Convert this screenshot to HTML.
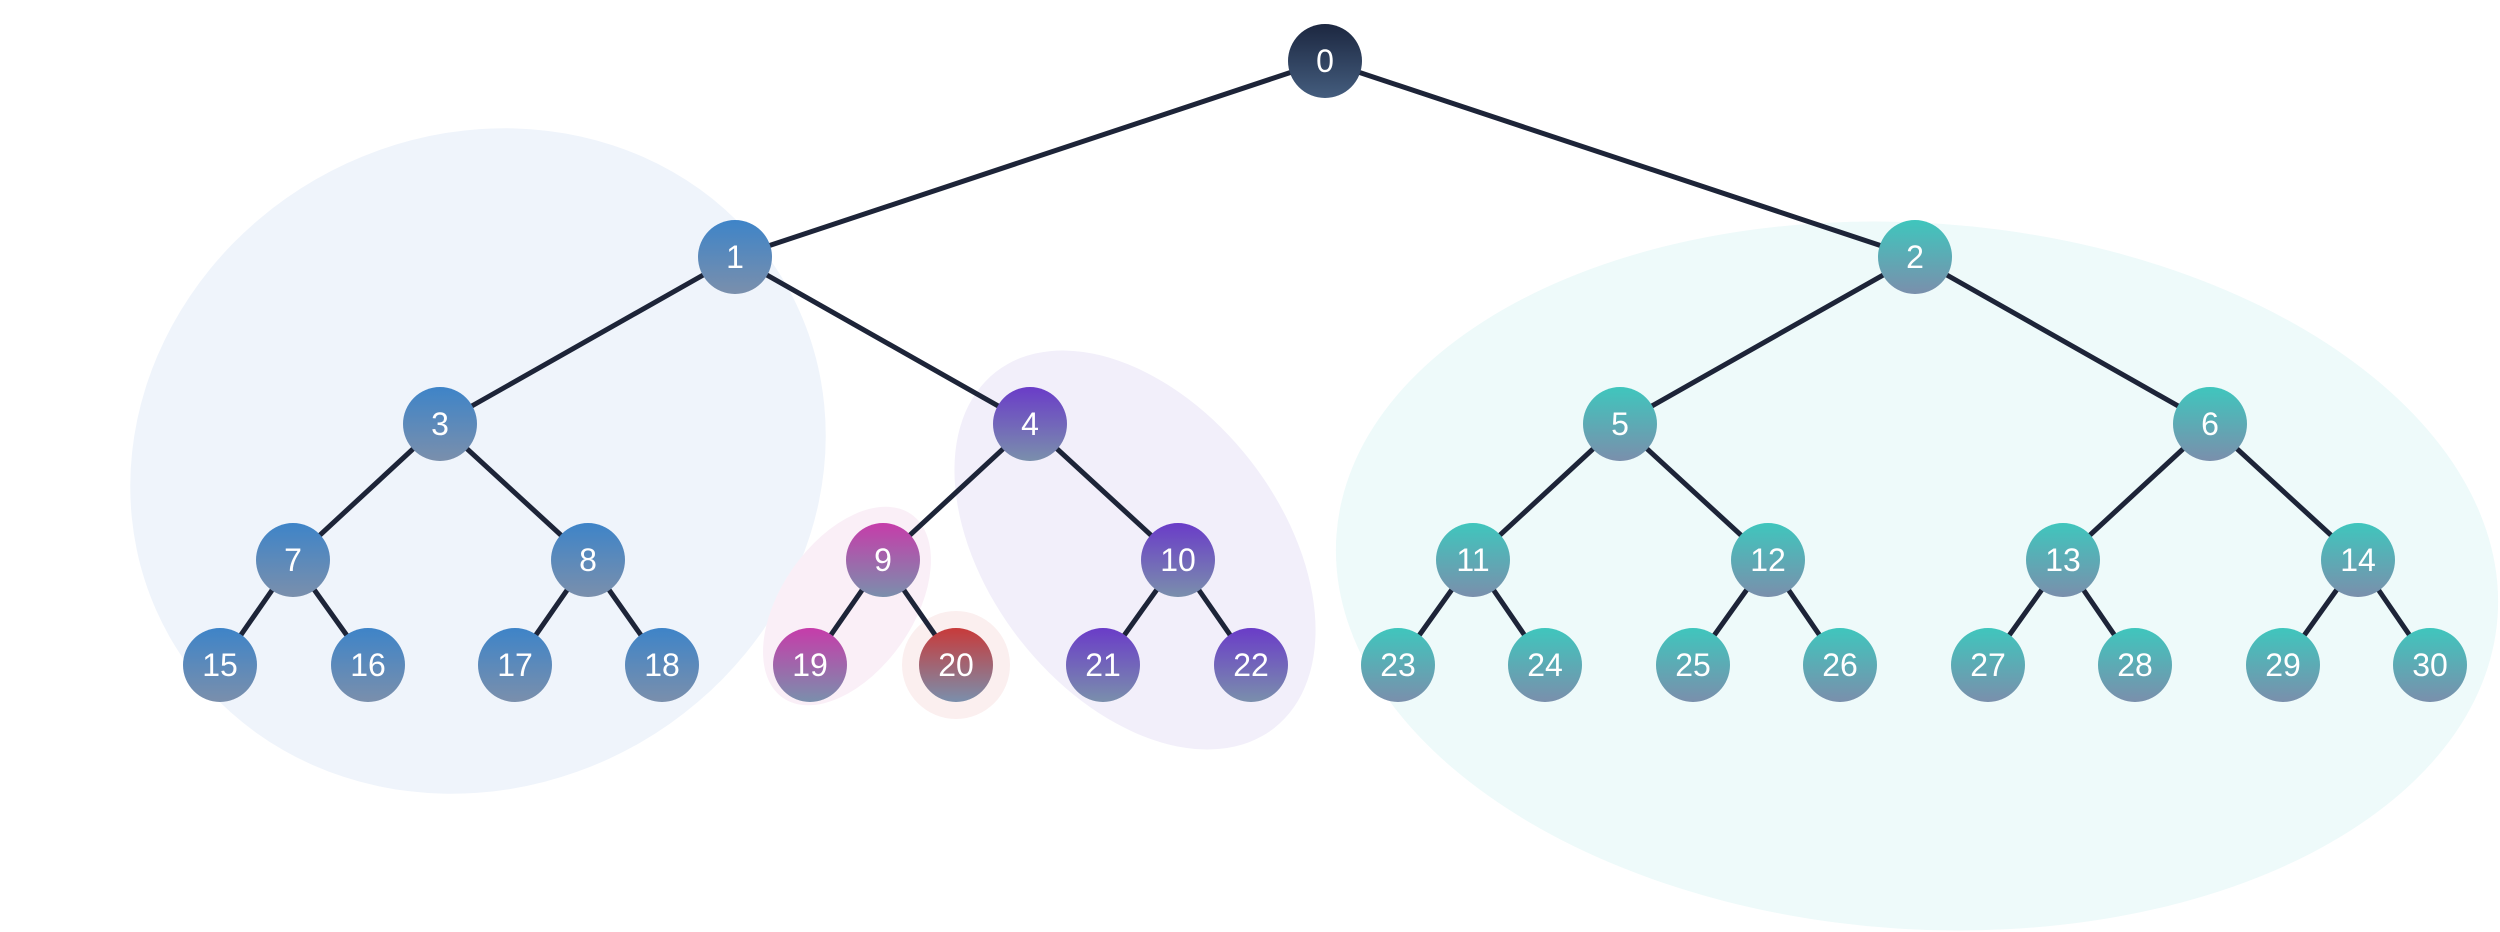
<!DOCTYPE html>
<html><head><meta charset="utf-8"><style>
html,body{margin:0;padding:0;background:#fff;}
svg{display:block}
text{font-family:"Liberation Sans",sans-serif;font-size:32px;font-weight:500;fill:#fff;text-anchor:middle;dominant-baseline:central}
</style></head><body>
<svg width="2500" height="932" viewBox="0 0 2500 932" xmlns="http://www.w3.org/2000/svg">
<defs>
<linearGradient id="gk" x1="0" y1="0" x2="0" y2="1"><stop offset="0" stop-color="#1c2740"/><stop offset="1" stop-color="#445d7e"/></linearGradient>
<linearGradient id="gb" x1="0" y1="0" x2="0" y2="1"><stop offset="0" stop-color="#3e84c8"/><stop offset="1" stop-color="#7a8fac"/></linearGradient>
<linearGradient id="gp" x1="0" y1="0" x2="0" y2="1"><stop offset="0" stop-color="#6a3cc8"/><stop offset="1" stop-color="#7a8fac"/></linearGradient>
<linearGradient id="gm" x1="0" y1="0" x2="0" y2="1"><stop offset="0" stop-color="#c63caa"/><stop offset="1" stop-color="#7a8fac"/></linearGradient>
<linearGradient id="gr" x1="0" y1="0" x2="0" y2="1"><stop offset="0" stop-color="#c83a3a"/><stop offset="1" stop-color="#7a8fac"/></linearGradient>
<linearGradient id="gt" x1="0" y1="0" x2="0" y2="1"><stop offset="0" stop-color="#3fc6bd"/><stop offset="1" stop-color="#7a8fac"/></linearGradient>
</defs>
<ellipse cx="478" cy="461" rx="355" ry="325" transform="rotate(-30 478 461)" fill="#eff4fb"/>
<ellipse cx="1917" cy="576" rx="582" ry="353" transform="rotate(4 1917 576)" fill="#eefafa"/>
<ellipse cx="1135" cy="550" rx="226" ry="146" transform="rotate(52 1135 550)" fill="#f2effa"/>
<ellipse cx="847" cy="606" rx="112" ry="66" transform="rotate(-55 847 606)" fill="#faeff7"/>
<circle cx="956" cy="665" r="54" fill="#fbefef"/>
<g stroke="#1d2438" stroke-width="5">
<line x1="1325" y1="61" x2="735" y2="257"/><line x1="1325" y1="61" x2="1915" y2="257"/>
<line x1="735" y1="257" x2="440" y2="424"/><line x1="735" y1="257" x2="1030" y2="424"/>
<line x1="1915" y1="257" x2="1620" y2="424"/><line x1="1915" y1="257" x2="2210" y2="424"/>
<line x1="440" y1="424" x2="293" y2="560"/><line x1="440" y1="424" x2="588" y2="560"/>
<line x1="1030" y1="424" x2="883" y2="560"/><line x1="1030" y1="424" x2="1178" y2="560"/>
<line x1="1620" y1="424" x2="1473" y2="560"/><line x1="1620" y1="424" x2="1768" y2="560"/>
<line x1="2210" y1="424" x2="2063" y2="560"/><line x1="2210" y1="424" x2="2358" y2="560"/>
<line x1="293" y1="560" x2="220" y2="665"/><line x1="293" y1="560" x2="368" y2="665"/>
<line x1="588" y1="560" x2="515" y2="665"/><line x1="588" y1="560" x2="662" y2="665"/>
<line x1="883" y1="560" x2="810" y2="665"/><line x1="883" y1="560" x2="956" y2="665"/>
<line x1="1178" y1="560" x2="1103" y2="665"/><line x1="1178" y1="560" x2="1251" y2="665"/>
<line x1="1473" y1="560" x2="1398" y2="665"/><line x1="1473" y1="560" x2="1545" y2="665"/>
<line x1="1768" y1="560" x2="1693" y2="665"/><line x1="1768" y1="560" x2="1840" y2="665"/>
<line x1="2063" y1="560" x2="1988" y2="665"/><line x1="2063" y1="560" x2="2135" y2="665"/>
<line x1="2358" y1="560" x2="2283" y2="665"/><line x1="2358" y1="560" x2="2430" y2="665"/>
</g>
<g>
<circle cx="1325" cy="61" r="37" fill="url(#gk)"/><text x="1325" y="61">0</text>
<circle cx="735" cy="257" r="37" fill="url(#gb)"/><text x="735" y="257">1</text>
<circle cx="1915" cy="257" r="37" fill="url(#gt)"/><text x="1915" y="257">2</text>
<circle cx="440" cy="424" r="37" fill="url(#gb)"/><text x="440" y="424">3</text>
<circle cx="1030" cy="424" r="37" fill="url(#gp)"/><text x="1030" y="424">4</text>
<circle cx="1620" cy="424" r="37" fill="url(#gt)"/><text x="1620" y="424">5</text>
<circle cx="2210" cy="424" r="37" fill="url(#gt)"/><text x="2210" y="424">6</text>
<circle cx="293" cy="560" r="37" fill="url(#gb)"/><text x="293" y="560">7</text>
<circle cx="588" cy="560" r="37" fill="url(#gb)"/><text x="588" y="560">8</text>
<circle cx="883" cy="560" r="37" fill="url(#gm)"/><text x="883" y="560">9</text>
<circle cx="1178" cy="560" r="37" fill="url(#gp)"/><text x="1178" y="560">10</text>
<circle cx="1473" cy="560" r="37" fill="url(#gt)"/><text x="1473" y="560">11</text>
<circle cx="1768" cy="560" r="37" fill="url(#gt)"/><text x="1768" y="560">12</text>
<circle cx="2063" cy="560" r="37" fill="url(#gt)"/><text x="2063" y="560">13</text>
<circle cx="2358" cy="560" r="37" fill="url(#gt)"/><text x="2358" y="560">14</text>
<circle cx="220" cy="665" r="37" fill="url(#gb)"/><text x="220" y="665">15</text>
<circle cx="368" cy="665" r="37" fill="url(#gb)"/><text x="368" y="665">16</text>
<circle cx="515" cy="665" r="37" fill="url(#gb)"/><text x="515" y="665">17</text>
<circle cx="662" cy="665" r="37" fill="url(#gb)"/><text x="662" y="665">18</text>
<circle cx="810" cy="665" r="37" fill="url(#gm)"/><text x="810" y="665">19</text>
<circle cx="956" cy="665" r="37" fill="url(#gr)"/><text x="956" y="665">20</text>
<circle cx="1103" cy="665" r="37" fill="url(#gp)"/><text x="1103" y="665">21</text>
<circle cx="1251" cy="665" r="37" fill="url(#gp)"/><text x="1251" y="665">22</text>
<circle cx="1398" cy="665" r="37" fill="url(#gt)"/><text x="1398" y="665">23</text>
<circle cx="1545" cy="665" r="37" fill="url(#gt)"/><text x="1545" y="665">24</text>
<circle cx="1693" cy="665" r="37" fill="url(#gt)"/><text x="1693" y="665">25</text>
<circle cx="1840" cy="665" r="37" fill="url(#gt)"/><text x="1840" y="665">26</text>
<circle cx="1988" cy="665" r="37" fill="url(#gt)"/><text x="1988" y="665">27</text>
<circle cx="2135" cy="665" r="37" fill="url(#gt)"/><text x="2135" y="665">28</text>
<circle cx="2283" cy="665" r="37" fill="url(#gt)"/><text x="2283" y="665">29</text>
<circle cx="2430" cy="665" r="37" fill="url(#gt)"/><text x="2430" y="665">30</text>
</g>
</svg>
</body></html>
